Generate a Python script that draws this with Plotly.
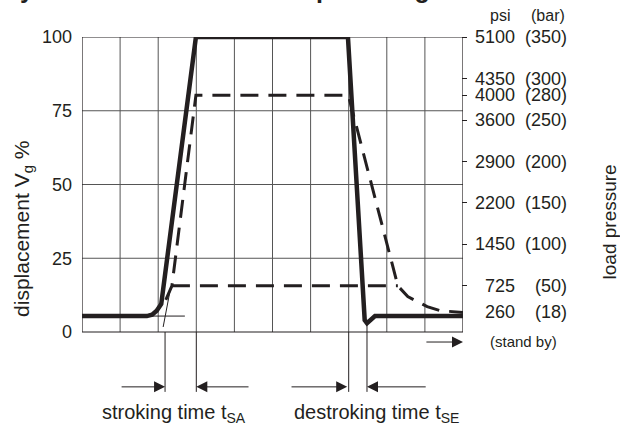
import plotly.graph_objects as go

# ---- data -------------------------------------------------------------
# time axis in grid divisions (0 .. 10)
t_disp = [0, 1.70, 1.84, 1.96, 2.08, 2.99, 6.98, 7.38, 7.42, 7.48, 7.69, 10]
disp_pct = [5.4, 5.4, 5.9, 7.2, 9.5, 100, 100, 6.5, 4.0, 3.0, 5.4, 5.4]

# load pressure in bar (right scale)
t_press_high = [2.20, 2.36, 2.99, 6.99, 8.29, 8.55, 9.06, 9.40, 10]
press_high_bar = [33, 50, 280, 280, 50, 37, 25, 20, 18]
t_press_low = [2.36, 8.29]
press_low_bar = [50, 50]

disp_ticks = [0, 25, 50, 75, 100]
press_ticks_bar = [350, 300, 280, 250, 200, 150, 100, 50]
press_ticks_psi = ["5100", "4350", "4000", "3600", "2900", "2200", "1450", "725"]
standby_bar = 18
standby_psi = "260"

# ---- styling ----------------------------------------------------------
FONT = "Liberation Sans, Arial, Helvetica, sans-serif"
INK = "#231f20"
GRID = "#555555"
Y_MIN, Y_MAX = -23.05, 100          # displacement axis incl. room below
P_MIN, P_MAX = -87.7, 350.2         # pressure axis (bar)

fig = go.Figure()

# grid (inside the 0..100 % frame)
gx, gy = [], []
for x in range(1, 10):
    gx += [x, x, None]
    gy += [0, 100, None]
for y in [25, 50, 75]:
    gx += [0, 10, None]
    gy += [y, y, None]
fig.add_trace(go.Scatter(x=gx, y=gy, mode="lines",
                         line=dict(color=GRID, width=1), hoverinfo="skip"))

# frame
fig.add_trace(go.Scatter(x=[0, 10, 10, 0, 0], y=[0, 0, 100, 100, 0], mode="lines",
                         line=dict(color=INK, width=1.2), hoverinfo="skip"))

# construction lines for the stroking / destroking times
cx = [2.13, 2.31, None, 1.70, 2.70, None, 2.18, 2.18, None,
      3.0, 3.0, None, 7.0, 7.0, None, 7.48, 7.48]
cy = [1.7, 13.9, None, 5.4, 5.4, None, 0, -20.3, None,
      0, -20.3, None, 0, -20.3, None, 3.0, -20.3]
fig.add_trace(go.Scatter(x=cx, y=cy, mode="lines",
                         line=dict(color=INK, width=1), hoverinfo="skip"))

# load pressure (dashed, right axis)
dash = dict(color=INK, width=3, dash="18px,10px")
fig.add_trace(go.Scatter(x=t_press_low, y=press_low_bar, yaxis="y2", mode="lines",
                         line=dash, hoverinfo="skip"))
fig.add_trace(go.Scatter(x=t_press_high, y=press_high_bar, yaxis="y2", mode="lines",
                         line=dash, hoverinfo="skip"))

# displacement (solid)
fig.add_trace(go.Scatter(x=t_disp, y=disp_pct, mode="lines",
                         line=dict(color=INK, width=4.5), hoverinfo="skip"))

ann = []


def label(x, y, text, size, xref="paper", yref="paper", xanchor="center", **kw):
    ann.append(dict(x=x, y=y, xref=xref, yref=yref, text=text, xanchor=xanchor,
                    yanchor="middle", showarrow=False, font=dict(size=size), **kw))


# right-hand pressure labels: psi column and bar column
PSI_X, BAR_X = 1.1417, 1.2782
for b, psi in zip(press_ticks_bar, press_ticks_psi):
    label(PSI_X, b, psi, 18, yref="y2", xanchor="right")
    label(BAR_X, b, f"({b})", 18, yref="y2", xanchor="right")
label(PSI_X, standby_bar, standby_psi, 18, yref="y2", xanchor="right")
label(BAR_X, standby_bar, f"({standby_bar})", 18, yref="y2", xanchor="right")
label(1.1575, 0.1598, "(stand by)", 15)
label(1.097, 1.0606, "psi", 16)
label(1.223, 1.0606, "(bar)", 16)

# axis titles
label(-0.155, 0.4711, "displacement V<sub>g</sub> %", 21, textangle=-90)
label(1.387, 0.4904, "load pressure", 19, textangle=-90)

# time labels below the chart
label(0.47, -0.036, "stroking time t<sub>SA</sub>", 20, xref="x", xanchor="left")
label(5.51, -0.036, "destroking time t<sub>SE</sub>", 20, xref="x", xanchor="left")

# dimension arrows
arrow = dict(text="", showarrow=True, arrowhead=2, arrowsize=2.2, arrowwidth=1.0,
             arrowcolor=INK, standoff=0, xref="x", yref="y", axref="x", ayref="y")
for head, tail, yy in [(2.18, 1.0, -18.6), (3.0, 4.41, -18.6),
                       (6.96, 5.46, -18.6), (7.48, 9.06, -18.6),
                       (10.0, 9.0, -3.4)]:
    ann.append(dict(arrow, x=head, y=yy, ax=tail, ay=yy))

# heading (only its lower edge is inside the page)
ann.append(dict(x=-0.215, y=1.088, xref="paper", yref="paper",
                text="<b>Dynamic of the control – upstroking</b>",
                xanchor="left", yanchor="bottom", showarrow=False,
                font=dict(size=25)))

fig.update_layout(
    width=620, height=427,
    margin=dict(l=82, r=157, t=37, b=27),
    paper_bgcolor="white", plot_bgcolor="white",
    font=dict(family=FONT, color=INK, size=18),
    showlegend=False,
    xaxis=dict(range=[0, 10], visible=False, fixedrange=True),
    yaxis=dict(range=[Y_MIN, Y_MAX], tickvals=disp_ticks, showgrid=False,
               zeroline=False, showline=False, ticks="",
               ticklabelstandoff=9, tickfont=dict(size=18)),
    yaxis2=dict(range=[P_MIN, P_MAX], overlaying="y", anchor="free",
                position=1 - 2.5 / 381, side="right", tickvals=press_ticks_bar,
                ticks="outside", ticklen=5, tickwidth=1.3, tickcolor=INK,
                showticklabels=False, showgrid=False, zeroline=False, showline=False),
    annotations=ann,
)

fig.write_html("out.html")
